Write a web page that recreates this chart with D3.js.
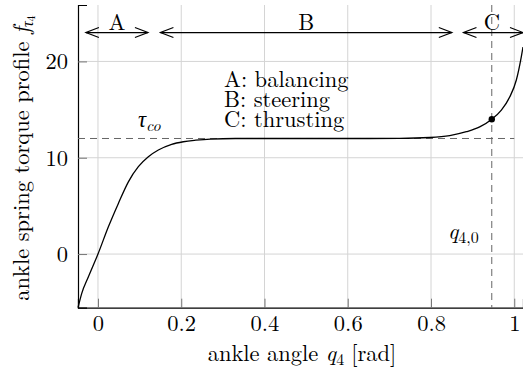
<!DOCTYPE html>
<html>
<head>
<meta charset="utf-8">
<script src="https://cdn.jsdelivr.net/npm/d3@7"></script>
<style>
  body { margin: 0; background: #fff; }
</style>
</head>
<body>
<div id="chart"></div>
<script>
// curve, ankle angle (rad) vs torque profile
const angle = [-0.048, -0.039, -0.023, 0, 0.025, 0.049, 0.073, 0.097, 0.121, 0.145,
  0.177, 0.205, 0.235, 0.27, 0.33, 0.45, 0.55, 0.65, 0.725, 0.797, 0.845, 0.885,
  0.917, 0.946, 0.969, 0.989, 1.005, 1.017, 1.021];
const torque = [-5.57, -4.08, -2.36, 0, 2.83, 5.26, 7.5, 9.07, 10.1, 10.8,
  11.39, 11.66, 11.82, 11.94, 12.0, 12.0, 12.0, 12.0, 12.01, 12.1, 12.3, 12.7,
  13.2, 14.0, 14.95, 16.3, 18.07, 20.5, 21.5];

const xTicks = [0, 0.2, 0.4, 0.6, 0.8, 1];
const xTickLabels = ['0', '0.2', '0.4', '0.6', '0.8', '1'];
const yTicks = [0, 10, 20];

const tauCo = 12;          // horizontal dashed level
const q40 = 0.946;         // vertical dashed angle
const q40Torque = 14.0;    // marked point

// phase arrows: [label, start, end]
const phases = [['A', -0.029, 0.12], ['B', 0.15, 0.85], ['C', 0.878, 1.021]];
const phaseY = 23;
const legendLines = ['A: balancing', 'B: steering', 'C: thrusting'];

const FONT = '"Latin Modern Roman", "Liberation Serif", serif';
const FS = 22.5, SUB = 16;

let margin = {top: 5, left: 78, right: 0, bottom: 63.3},
  width = 523 - margin.left - margin.right,
  height = 371 - margin.top - margin.bottom;

const svg = d3.select('#chart').append('svg')
  .attr('width', 523).attr('height', 371)
  .style('font-family', FONT);

const x = d3.scaleLinear().domain([-0.048, 1.021]).range([margin.left, margin.left + width]);
const y = d3.scaleLinear().domain([-5.57, 25.86]).range([margin.top + height, margin.top]);

const bottom = margin.top + height;

// serif text helper
function txt(sel) {
  return sel.style('font-family', FONT).style('font-size', FS + 'px').attr('fill', '#000');
}

// grid
svg.append('g').selectAll('line').data(xTicks).join('line')
  .attr('x1', d => x(d)).attr('x2', d => x(d))
  .attr('y1', margin.top).attr('y2', bottom)
  .attr('stroke', '#d4d4d4').attr('stroke-width', 1);
svg.append('g').selectAll('line').data(yTicks).join('line')
  .attr('x1', margin.left).attr('x2', 523)
  .attr('y1', d => y(d)).attr('y2', d => y(d))
  .attr('stroke', '#d4d4d4').attr('stroke-width', 1);

// axes
let xAxis = svg.append('g')
  .attr('transform', 'translate(0,' + bottom + ')')
  .call(d3.axisBottom(x).tickValues(xTicks).tickSize(-9).tickPadding(0)
    .tickFormat((d, i) => xTickLabels[i]));
let yAxis = svg.append('g')
  .attr('transform', 'translate(' + margin.left + ',0)')
  .call(d3.axisLeft(y).tickValues(yTicks).tickSize(-9).tickPadding(10));

[xAxis, yAxis].forEach(a => {
  a.attr('font-family', null);
  a.select('.domain').attr('stroke', '#000').attr('stroke-width', 1.2);
  a.selectAll('.tick line').attr('stroke', '#777').attr('stroke-width', 1);
  txt(a.selectAll('text'));
});
xAxis.selectAll('text').attr('dy', null).attr('y', 23.5);
yAxis.selectAll('text').attr('dy', '0.33em');

// dashed reference lines
svg.append('line')
  .attr('x1', margin.left).attr('x2', x(1))
  .attr('y1', y(tauCo)).attr('y2', y(tauCo))
  .attr('stroke', '#666').attr('stroke-width', 1).attr('stroke-dasharray', '7,5');
svg.append('line')
  .attr('x1', x(q40)).attr('x2', x(q40))
  .attr('y1', margin.top).attr('y2', bottom)
  .attr('stroke', '#666').attr('stroke-width', 1).attr('stroke-dasharray', '7,5');

// curve
const line = d3.line().x((d, i) => x(angle[i])).y((d, i) => y(torque[i]))
  .curve(d3.curveMonotoneX);
svg.append('path')
  .attr('d', line(angle))
  .attr('fill', 'none').attr('stroke', '#000').attr('stroke-width', 1.3);

svg.append('circle')
  .attr('cx', x(q40)).attr('cy', y(q40Torque)).attr('r', 3.2).attr('fill', '#000');

// phase arrows
const arrows = svg.append('g').selectAll('g').data(phases).join('g');
arrows.append('line')
  .attr('x1', d => x(d[1])).attr('x2', d => x(d[2]))
  .attr('y1', y(phaseY)).attr('y2', y(phaseY))
  .attr('stroke', '#000').attr('stroke-width', 1.2);
arrows.append('path')
  .attr('d', d => {
    let a = x(d[1]), b = x(d[2]), yy = y(phaseY);
    return 'M' + (a + 13) + ',' + (yy - 5) + 'L' + a + ',' + yy + 'L' + (a + 13) + ',' + (yy + 5) +
      'M' + (b - 13) + ',' + (yy - 5) + 'L' + b + ',' + yy + 'L' + (b - 13) + ',' + (yy + 5);
  })
  .attr('fill', 'none').attr('stroke', '#000').attr('stroke-width', 1.2);
txt(arrows.append('text'))
  .attr('x', d => d[0] === 'C' ? x(q40) : x((d[1] + d[2]) / 2))
  .attr('y', y(phaseY) - 3)
  .attr('text-anchor', 'middle')
  .text(d => d[0]);

// legend text
txt(svg.append('g').selectAll('text').data(legendLines).join('text'))
  .attr('x', 224).attr('y', (d, i) => 87 + i * 20)
  .text(d => d);

// tau_co label
let tau = txt(svg.append('text')).attr('x', 138).attr('y', 127);
tau.append('tspan').style('font-style', 'italic').text('τ');
tau.append('tspan').style('font-style', 'italic').style('font-size', SUB + 'px').attr('dy', 4).text('co');

// q_{4,0} label
let q = txt(svg.append('text')).attr('x', 448).attr('y', 239);
q.append('tspan').style('font-style', 'italic').text('q');
q.append('tspan').style('font-size', SUB + 'px').attr('dy', 4).text('4,0');

// x label
let xl = txt(svg.append('text')).attr('x', 302).attr('y', 361)
  .attr('text-anchor', 'middle');
xl.append('tspan').text('ankle angle ');
xl.append('tspan').style('font-style', 'italic').text('q');
xl.append('tspan').style('font-size', SUB + 'px').attr('dy', 4).text('4');
xl.append('tspan').attr('dy', -4).attr('dx', 7).text('[rad]');

// y label
let yl = txt(svg.append('text'))
  .attr('transform', 'translate(29,158) rotate(-90)')
  .attr('text-anchor', 'middle');
yl.append('tspan').text('ankle spring torque profile ');
yl.append('tspan').style('font-style', 'italic').text('f');
yl.append('tspan').style('font-style', 'italic').style('font-size', SUB + 'px').attr('dy', 4).text('τ');
yl.append('tspan').style('font-size', '12px').attr('dy', 2).text('4');
</script>
</body>
</html>
